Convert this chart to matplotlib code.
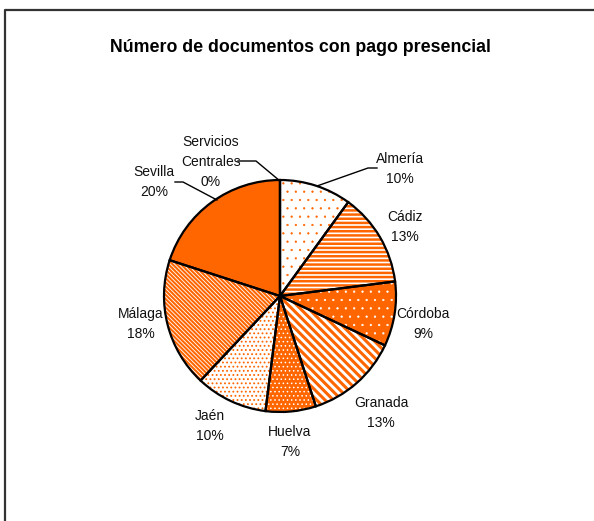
import matplotlib
matplotlib.use("Agg")
import matplotlib.pyplot as plt

plt.rcParams['font.family'] = ['Liberation Sans', 'DejaVu Sans']

# Datos
provincias = ["Almería", "Cádiz", "Córdoba", "Granada", "Huelva", "Jaén",
              "Málaga", "Sevilla", "Servicios\nCentrales"]
porcentajes = [10, 13, 9, 13, 7, 10, 18, 20, 0]
etiquetas = ["10%", "13%", "9%", "13%", "7%", "10%", "18%", "20%", "0%"]

naranja = "#FF6600"
W, H = 594, 521

# relleno, color de trama, trama, grosor de trama
estilos = [
    ("white", naranja, "..", 0.4),
    ("white", naranja, "----", 1.8),
    (naranja, "white", "..", 0.4),
    ("white", naranja, "\\" * 4, 2.2),
    (naranja, "white", "....", 0.6),
    ("white", naranja, "....", 0.8),
    ("white", naranja, "\\" * 8, 1.5),
    (naranja, naranja, "", 1.0),
    ("white", naranja, "", 1.0),
]

fig = plt.figure(figsize=(W / 100, H / 100), dpi=100)
ax = fig.add_axes([0, 0, 1, 1])

centro = (280, H - 296)
radio = 116

# capa de relleno con tramas
cunhas, _ = ax.pie(porcentajes, startangle=90, counterclock=False,
                   center=centro, radius=radio,
                   wedgeprops=dict(linewidth=0))
for w, (fc, hc, hatch, hlw) in zip(cunhas, estilos):
    w.set_facecolor(fc)
    w.set_edgecolor(hc)
    w.set_linewidth(0)
    if hatch:
        w.set_hatch(hatch)
        if hasattr(w, "set_hatch_linewidth"):
            w.set_hatch_linewidth(hlw)
        else:
            w._hatch_linewidth = hlw

# capa de bordes
ax.pie(porcentajes, startangle=90, counterclock=False,
       center=centro, radius=radio,
       wedgeprops=dict(fill=False, edgecolor="black", linewidth=1.6))

ax.set_xlim(0, W)
ax.set_ylim(0, H)
ax.set_aspect("auto")
ax.axis("off")

# etiquetas (posición del centro del texto)
pos_etiquetas = [(400, 169), (405, 227), (423, 324), (381, 413), (290, 442),
                 (210, 426), (141, 324), (154, 182), (211, 162)]
for nombre, pct, (x, y) in zip(provincias, etiquetas, pos_etiquetas):
    ax.text(x, H - y, nombre + "\n" + pct, ha="center", va="center",
            fontsize=10, linespacing=1.55, color="#111111")

# líneas guía
guias = [
    [(377, 168), (368, 168), (317, 186)],
    [(175, 182), (183, 182), (217, 200)],
    [(238, 161), (256, 161), (280, 181)],
]
for g in guias:
    ax.plot([p[0] for p in g], [H - p[1] for p in g], color="black", lw=1)

ax.text(300, H - 47, "Número de documentos con pago presencial",
        ha="center", va="center", fontsize=12.8, fontweight="bold")

# marco
ax.plot([5, 5, W + 5], [-5, H - 10, H - 10], color="#333333", lw=1.6,
        clip_on=False)

fig.savefig("out.png", dpi=100)
